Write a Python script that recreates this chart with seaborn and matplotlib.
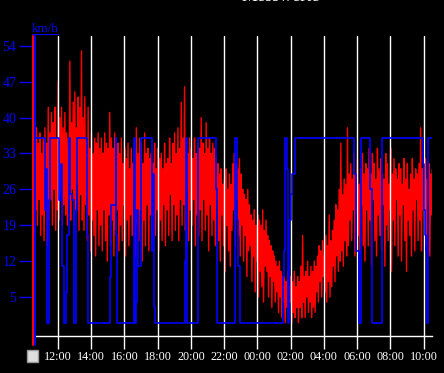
import numpy as np
import pandas as pd
import matplotlib
matplotlib.use("Agg")
import matplotlib.pyplot as plt
import seaborn as sns
from matplotlib.lines import Line2D
from matplotlib.patches import Rectangle

# ---------------- data ----------------
title = "Messwerte"
unit_label = "km/h"
y_ticks = [5, 12, 19, 26, 33, 40, 47, 54]
x_tick_labels = ["12:00", "14:00", "16:00", "18:00", "20:00", "22:00",
                 "00:00", "02:00", "04:00", "06:00", "08:00", "10:00"]

speed_start = "10:34"
speed_step_min = 3
speed_kmh = [
    28, 36, 22, 38, 19, 35, 24, 37, 17, 33, 21, 36, 16, 38, 23, 35, 15, 42, 20, 37,
    24, 41, 19, 39, 26, 42, 18, 36, 22, 47, 20, 40, 25, 42, 19, 38, 23, 41, 21, 37,
    19, 36, 24, 51, 20, 39, 26, 43, 19, 45, 22, 38, 27, 44, 18, 42, 25, 53, 20, 40,
    18, 44, 23, 35, 16, 42, 21, 34, 14, 37, 20, 33, 17, 36, 13, 35, 22, 37, 15, 34,
    19, 36, 14, 33, 22, 37, 16, 35, 12, 34, 21, 41, 15, 36, 20, 34, 13, 37, 18, 33,
    22, 35, 14, 33, 19, 36, 16, 31, 23, 34, 13, 32, 20, 35, 15, 30, 21, 34, 17, 31,
    24, 34, 13, 38, 19, 33, 16, 36, 22, 35, 12, 31, 20, 37, 15, 33, 23, 34, 14, 32,
    21, 33, 15, 31, 24, 35, 17, 30, 22, 34, 14, 32, 20, 33, 16, 30, 23, 35, 15, 31,
    22, 32, 17, 36, 25, 31, 16, 35, 23, 37, 18, 33, 21, 38, 16, 34, 24, 43, 19, 36,
    23, 46, 18, 35, 26, 33, 16, 36, 22, 34, 19, 32, 24, 36, 15, 33, 21, 35, 17, 34,
    22, 40, 16, 35, 24, 33, 18, 39, 21, 34, 14, 36, 23, 33, 17, 35, 20, 34, 15, 32,
    24, 31, 16, 29, 12, 30, 21, 27, 15, 28, 10, 30, 19, 26, 14, 29, 11, 27, 18, 31,
    22, 33, 15, 31, 24, 30, 17, 32, 13, 29, 19, 26, 12, 25, 17, 24, 9, 26, 14, 23,
    15, 21, 8, 20, 13, 22, 6, 19, 12, 21, 5, 20, 10, 19, 7, 22, 4, 18, 11, 20,
    10, 17, 5, 16, 9, 15, 3, 14, 8, 13, 4, 12, 6, 11, 2, 12, 5, 10, 1, 9,
    4, 9, 0, 8, 3, 10, 1, 7, 4, 9, 0, 8, 2, 10, 1, 7, 3, 9, 0, 8,
    3, 11, 1, 17, 4, 9, 1, 10, 5, 12, 2, 9, 4, 11, 1, 10, 3, 12, 2, 11,
    6, 13, 4, 15, 8, 14, 5, 16, 9, 13, 6, 17, 4, 15, 8, 21, 5, 16, 7, 18,
    11, 20, 8, 23, 13, 22, 10, 26, 12, 35, 14, 25, 11, 28, 16, 27, 13, 38, 15, 29,
    20, 31, 16, 28, 22, 33, 13, 29, 21, 32, 17, 27, 14, 30, 23, 33, 15, 29, 12, 31,
    22, 30, 15, 34, 20, 29, 11, 33, 24, 31, 16, 28, 13, 34, 21, 30, 17, 32, 14, 29,
    23, 28, 11, 33, 19, 31, 16, 27, 22, 34, 10, 29, 20, 32, 15, 30, 24, 28, 13, 31,
    21, 30, 12, 27, 23, 32, 16, 28, 10, 31, 20, 26, 17, 29, 13, 32, 22, 28, 14, 30,
    24, 29, 16, 31, 20, 38, 14, 30, 22, 27, 18, 32, 15, 28, 23, 31, 13, 29, 21, 30,
]

dir_times = ["10:36", "11:14", "11:18", "11:22", "11:26", "11:32", "12:04", "12:10",
             "12:16", "12:22", "12:28", "12:34", "12:40", "12:44", "12:52", "12:58",
             "13:04", "13:10", "13:44", "13:50", "15:07", "15:10", "15:29", "15:31",
             "15:34", "16:34", "16:38", "16:42", "16:46", "16:50", "17:00", "17:40",
             "17:43", "17:46", "17:50", "19:38", "19:41", "19:46", "20:25", "21:29",
             "21:33", "22:38", "22:40", "22:45", "22:50", "22:58", "01:31", "01:35",
             "01:41", "01:46", "01:50", "01:55", "02:00", "02:06", "02:14", "05:50",
             "05:54", "06:08", "06:12", "06:48", "06:52", "07:28", "07:31", "09:59",
             "10:02", "10:05", "10:10", "10:12", "10:16", "10:30"]
dir_values = [36, 22, 30, 0, 24, 36, 24, 31, 11, 0, 6, 17, 36, 25, 24, 0,
              22, 36, 17, 0, 9, 23, 36, 17, 0, 36, 0, 4, 22, 11, 36, 14,
              29, 3, 0, 12, 36, 0, 36, 26, 0, 9, 36, 20, 11, 0, 9, 14,
              36, 30, 0, 20, 25, 29, 36, 29, 14, 0, 36, 26, 0, 29, 36, 31,
              22, 17, 14, 0, 36, 36]

BASE = "2012-06-01"
X_START = "10:30"
Y_MIN, Y_MAX = -2.6, 55.9


def clock_series(times):
    out, offset, prev = [], 0, None
    for s in times:
        t = pd.Timestamp(f"{BASE} {s}")
        if prev is not None and t + pd.Timedelta(days=offset) < prev:
            offset += 1
        t = t + pd.Timedelta(days=offset)
        out.append(t)
        prev = t
    return out


red_df = pd.DataFrame({
    "time": pd.Timestamp(f"{BASE} {speed_start}")
    + pd.to_timedelta(np.arange(len(speed_kmh)) * speed_step_min, unit="min"),
    "speed": speed_kmh,
})
blue_df = pd.DataFrame({"time": clock_series(dir_times), "value": dir_values})
tick_pos = clock_series([X_START] + x_tick_labels)[1:]
x0 = pd.Timestamp(f"{BASE} {X_START}")
x1 = x0 + pd.Timedelta(hours=24)

# ---------------- style ----------------
sns.set_theme(style="ticks")
plt.rcParams["font.family"] = ["Liberation Serif", "DejaVu Serif"]

W, H = 444, 373
fig = plt.figure(figsize=(W / 100, H / 100), dpi=100)
fig.patch.set_facecolor("black")
ax = fig.add_axes([33 / W, 37 / H, 399 / W, 300 / H])
ax.set_facecolor("black")

sns.lineplot(data=red_df, x="time", y="speed", ax=ax, color="#ff0000",
             lw=1.0, estimator=None, errorbar=None, zorder=1, legend=False)
sns.lineplot(data=blue_df, x="time", y="value", ax=ax, color="#0000ff",
             lw=1.2, estimator=None, errorbar=None, drawstyle="steps-post",
             zorder=3, legend=False)

ax.set_xlim(x0, x1)
ax.set_ylim(Y_MIN, Y_MAX)
ax.set_xlabel("")
ax.set_ylabel("")

ax.set_xticks(tick_pos)
ax.set_xticklabels(x_tick_labels)
ax.set_yticks(y_ticks)
ax.set_yticklabels([str(v) for v in y_ticks])

ax.set_axisbelow(False)
ax.grid(axis="x", color="white", lw=1.0)
ax.grid(axis="y", visible=False)

ax.tick_params(axis="x", colors="white", length=9, width=1, pad=2,
               labelsize=8.7, labelcolor="white")
ax.tick_params(axis="y", colors="#0000ff", length=10, width=1, pad=2,
               labelsize=10, labelcolor="#0000ff")

for s in ["top", "right", "left"]:
    ax.spines[s].set_visible(False)
ax.spines["bottom"].set_color("white")
ax.spines["bottom"].set_linewidth(1)


def fy(y):
    return 1 - y / H


# left axis: red + blue double line
fig.add_artist(Line2D([32.5 / W, 32.5 / W], [fy(36), fy(345)], color="#ff0000",
                      lw=1.44, transform=fig.transFigure))
fig.add_artist(Line2D([34.5 / W, 34.5 / W], [fy(36), fy(345)], color="#0000ff",
                      lw=1.44, transform=fig.transFigure))

# unit label, underlined
fig.text(32 / W, fy(32), unit_label, color="#0000ff", fontsize=9.4,
         ha="left", va="baseline")
fig.add_artist(Line2D([32 / W, 58 / W], [fy(33.5), fy(33.5)], color="#0000ff",
                      lw=0.8, transform=fig.transFigure))

# title (clipped at the top edge, as in the reference)
fig.text(281 / W, fy(1), title, color="white", fontsize=13,
         ha="center", va="baseline")

# checkbox
fig.add_artist(Rectangle((27 / W, fy(362)), 11 / W, 12 / H, transform=fig.transFigure,
                         facecolor="#dedede", edgecolor="#9a9a9a", lw=1))

fig.savefig("out.png", dpi=100, facecolor="black")
